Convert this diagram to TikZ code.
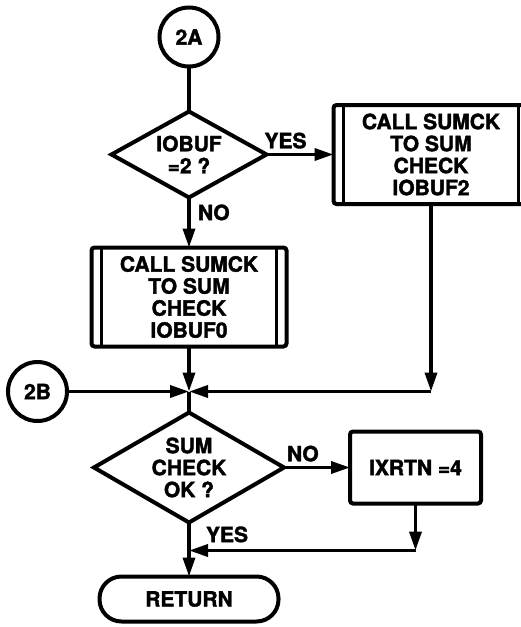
\documentclass[tikz,border=0pt]{standalone}
\usepackage{fontspec}
\setsansfont{TeX Gyre Heros}[BoldFeatures={FakeBold=1.8}]
\usetikzlibrary{arrows.meta,positioning,shapes.geometric}

\begin{document}
\begin{tikzpicture}[
  font={\sffamily\bfseries\fontsize{21pt}{22pt}\selectfont},
  >={Triangle[length=19pt,width=12pt]},
  line width=3.5pt,
  every node/.style={outer sep=0pt},
  conn/.style={draw, circle, line width=4pt, minimum size=59pt, inner sep=0pt},
  test/.style={draw, diamond, line width=4pt, align=center, inner sep=0pt},
  box/.style={draw, rounded corners=3pt, line width=4pt, align=center, inner sep=0pt},
  proc/.style={box, minimum width=195pt, minimum height=99pt,
    path picture={\draw[line width=3pt]
      ([xshift=10pt]path picture bounding box.north west) -- ([xshift=10pt]path picture bounding box.south west)
      ([xshift=-10pt]path picture bounding box.north east) -- ([xshift=-10pt]path picture bounding box.south east);}},
  term/.style={draw, rounded corners=22pt, line width=4pt, minimum width=179pt, minimum height=45pt},
  lbl/.style={inner sep=0pt},
]
\useasboundingbox (0,0) rectangle (521pt,-627pt);
\clip (0,0) rectangle (521pt,-627pt);
\node[conn] (c2a) at (189pt,-37pt) {2A};
\node[test, aspect=1.8, minimum width=155pt, minimum height=86pt, below=45pt of c2a] (q1) {IOBUF\\=2 ?};
\node[proc, right=67pt of q1] (p2) {CALL SUMCK\\TO SUM\\CHECK\\IOBUF2};
\node[proc, below=50pt of q1] (p0) {CALL SUMCK\\TO SUM\\CHECK\\IOBUF0};
\coordinate[below=45pt of p0] (j1);
\node[conn, left=122pt of j1] (c2b) {2B};
\coordinate (k1) at (p2 |- j1);
\node[test, aspect=1.73, minimum width=190pt, minimum height=110pt, below=21pt of j1] (q2) {SUM\\CHECK\\OK ?};
\node[box, minimum width=131pt, minimum height=72pt, right=66pt of q2] (x4) {IXRTN =4};
\coordinate[below=47pt of x4] (k2);
\coordinate (j2) at (q2 |- k2);
\node[term, below=54pt of q2] (ret) {RETURN};
\node[lbl, above right=6pt and -2pt of q1.east] {YES};
\node[lbl, below right=7pt and 9pt of q1.south] {NO};
\node[lbl, above right=6pt and 3pt of q2.east] {NO};
\node[lbl, below right=4pt and 17pt of q2.south] {YES};
\draw (c2a) -- (q1);
\draw[->] (q1.east) -- (p2.west);
\draw[->] (q1) -- (p0);
\draw[->] (p0) -- (j1);
\draw[->] (c2b) -- (j1);
\draw[->] (p2) -- (k1);
\draw[->] (k1) -- (j1);
\draw (j1) -- (q2);
\draw[->] (q2.east) -- (x4.west);
\draw[->] (x4) -- (k2);
\draw[->] (k2) -- (j2);
\draw[->] (q2) -- (ret);
\end{tikzpicture}
\end{document}
